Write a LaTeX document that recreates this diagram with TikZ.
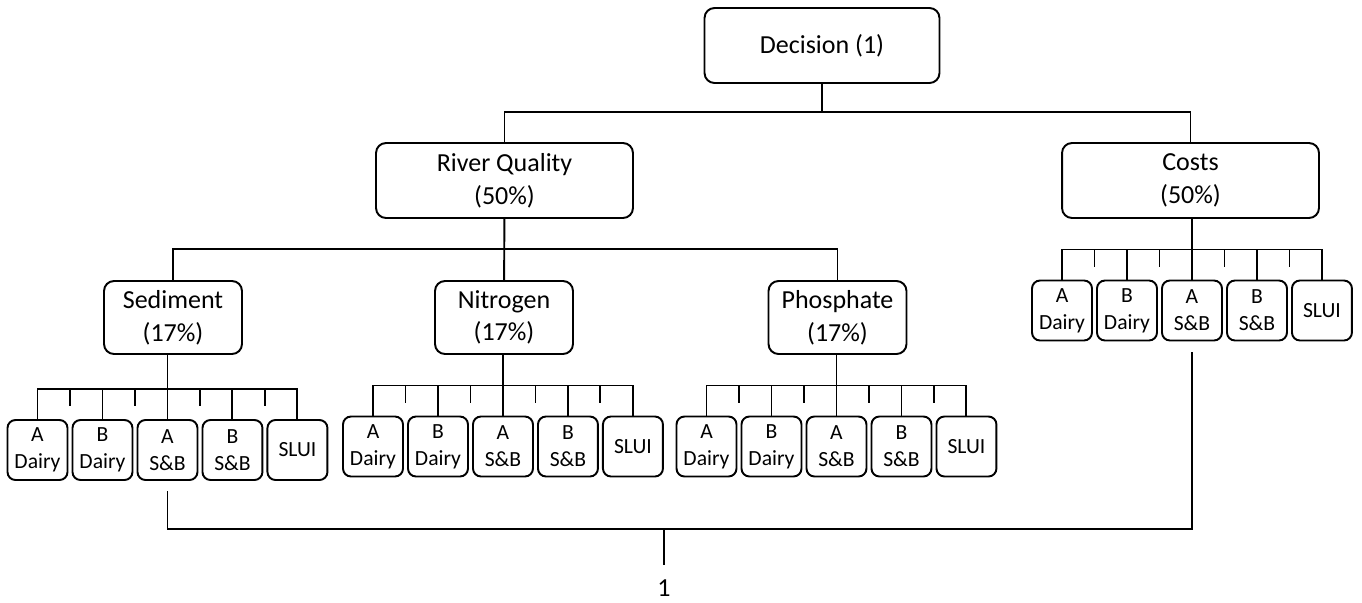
\documentclass[tikz,border=0pt]{standalone}
\usepackage{fontspec}
\setmainfont{Carlito}
\usepackage{tikz}
\usetikzlibrary{positioning,calc}

\newcommand\critfont{\fontsize{14.8}{18.6}\selectfont}
\newcommand\leaffont{\fontsize{12.3}{15.3}\selectfont}

\begin{document}
\begin{tikzpicture}[
      x=0.02cm, y=-0.02cm, line width=1.1pt,
      node distance=0.1cm,
      crit/.style={rectangle, draw, rounded corners=0.2cm, align=center,
            font=\critfont, minimum height=1.5cm, inner sep=0pt, outer sep=0pt},
      leaf/.style={rectangle, draw, rounded corners=0.16cm, align=center,
            font=\leaffont, minimum width=1.2cm, minimum height=1.2cm,
            inner sep=0pt, outer sep=0pt}
]
      \useasboundingbox (0,0) rectangle (1362,602);

      % criteria
      \node[crit, minimum width=4.7cm] (decision) at (822,45.5) {Decision (1)};
      \node[crit, minimum width=5.14cm] (river) at (504.5,180.5) {River Quality\\(50\%)};
      \node[crit, minimum width=5.14cm] (costs) at (1190.5,180.5) {Costs\\(50\%)};
      \node[crit, minimum width=2.76cm, minimum height=1.46cm] (sediment) at (173,317.5) {Sediment\\(17\%)};
      \node[crit, minimum width=2.76cm, minimum height=1.46cm] (nitrogen) at (504,317.5) {Nitrogen\\(17\%)};
      \node[crit, minimum width=2.76cm, minimum height=1.46cm] (phosphate) at (837.5,317.5) {Phosphate\\(17\%)};

      % options under sediment
      \node[leaf] (sedAD) at (37.5,450) {A\\Dairy};
      \node[leaf, right=of sedAD] (sedBD) {B\\Dairy};
      \node[leaf, right=of sedBD] (sedAS) {A\\S\&B};
      \node[leaf, right=of sedAS] (sedBS) {B\\S\&B};
      \node[leaf, right=of sedBS] (sedSL) {SLUI};

      % options under nitrogen
      \node[leaf] (nitAD) at (373,446.5) {A\\Dairy};
      \node[leaf, right=of nitAD] (nitBD) {B\\Dairy};
      \node[leaf, right=of nitBD] (nitAS) {A\\S\&B};
      \node[leaf, right=of nitAS] (nitBS) {B\\S\&B};
      \node[leaf, right=of nitBS] (nitSL) {SLUI};

      % options under phosphate
      \node[leaf] (phoAD) at (706.5,446.5) {A\\Dairy};
      \node[leaf, right=of phoAD] (phoBD) {B\\Dairy};
      \node[leaf, right=of phoBD] (phoAS) {A\\S\&B};
      \node[leaf, right=of phoAS] (phoBS) {B\\S\&B};
      \node[leaf, right=of phoBS] (phoSL) {SLUI};

      % options under costs
      \node[leaf] (costAD) at (1062,310.5) {A\\Dairy};
      \node[leaf, right=of costAD] (costBD) {B\\Dairy};
      \node[leaf, right=of costBD] (costAS) {A\\S\&B};
      \node[leaf, right=of costAS] (costBS) {B\\S\&B};
      \node[leaf, right=of costBS] (costSL) {SLUI};

      \coordinate (join) at (664,529);
      \node[font=\critfont, inner sep=0.28cm] (one) at (664,588) {1};

      % tree connectors
      \draw (decision) -- (decision.south |- 0,112);
      \draw (river.north) |- (decision.south |- 0,112) -| (costs.north);
      \draw (nitrogen) -- (river);
      \draw (sediment.north) |- (nitrogen.north |- 0,249) -| (phosphate.north);

      \foreach \grp/\up in {sed/sediment, nit/nitrogen, pho/phosphate, cost/costs} {
            \draw (\grp AD.north) -- ++(0,-31) -| (\grp SL.north);
            \draw (\grp BD.north) -- ++(0,-31);
            \draw (\grp BS.north) -- ++(0,-31);
            \draw (\grp AS.north) -- (\grp AS.north |- \up.south);
            \foreach \a/\b in {AD/BD, BD/AS, AS/BS, BS/SL}
                  \draw ($(\grp\a.north east)!0.5!(\grp\b.north west)$) ++(0,-31) -- ++(0,17);
      }

      % bottom link
      \draw ([yshift=-0.22cm]sedAS.south) |- (join) -| ([yshift=-0.24cm]costAS.south);
      \draw (join) -- (one);
\end{tikzpicture}
\end{document}
